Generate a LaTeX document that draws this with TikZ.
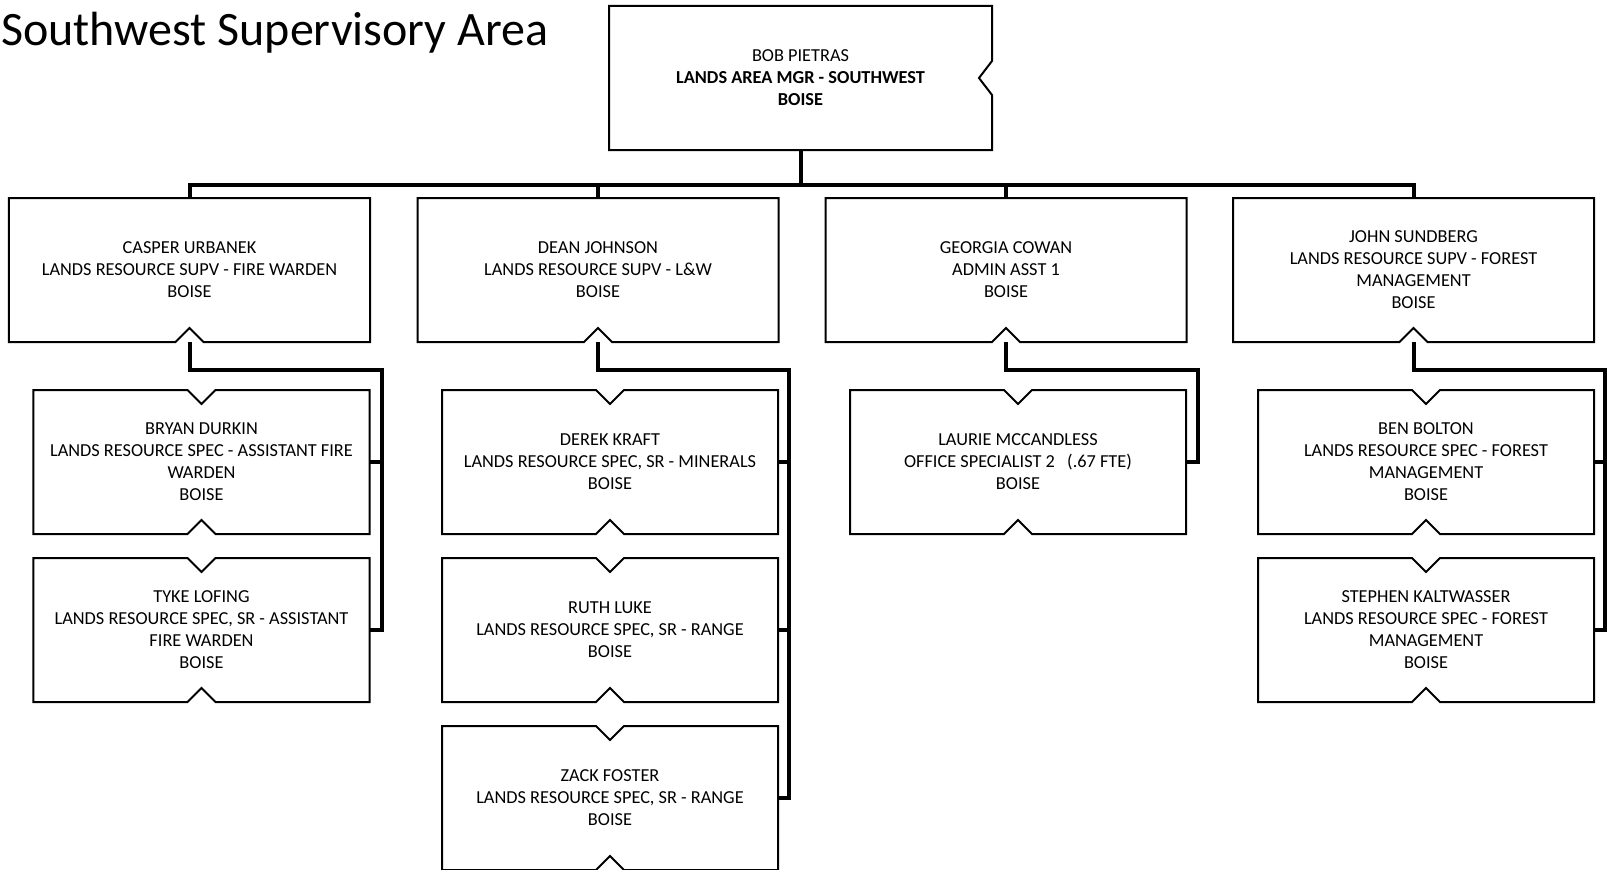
\documentclass[tikz,border=0pt]{standalone}
\usepackage{fontspec}
\setmainfont{Carlito}
\usetikzlibrary{calc}
\newcommand{\chout}[1]{\draw[boxline] (#1.north west) -- ($(#1.north)+(-14,0)$) -- ($(#1.north)+(0,14)$) -- ($(#1.north)+(14,0)$) -- (#1.north east) -- (#1.south east) -- ($(#1.south)+(14,0)$) -- ($(#1.south)+(0,-14)$) -- ($(#1.south)+(-14,0)$) -- (#1.south west) -- cycle;}
\newcommand{\supout}[1]{\draw[boxline] (#1.north west) -- (#1.north east) -- (#1.south east) -- ($(#1.south)+(14,0)$) -- ($(#1.south)+(0,-14)$) -- ($(#1.south)+(-14,0)$) -- (#1.south west) -- cycle;}
\begin{document}
\begin{tikzpicture}[x=1bp,y=-1bp,
  boxline/.style={line width=2bp, line join=miter},
  conn/.style={line width=4bp, line join=miter},
  txt/.style={inner sep=0pt, outer sep=0pt, align=center, font=\fontsize{18.3bp}{22bp}\selectfont},
  supnode/.style={txt, minimum width=361bp, minimum height=144bp},
  chnode/.style={txt, minimum width=336bp, minimum height=144bp}]
\useasboundingbox (0,0) rectangle (1607,869);
\clip (0,0) rectangle (1607,869);
\fill[white] (0,0) rectangle (1607,869);

\node[anchor=base west, inner sep=0pt, font=\fontsize{48bp}{58bp}\selectfont] (title) at (1,45) {Southwest Supervisory Area};

% top
\node[txt, minimum width=383bp, minimum height=144bp] (bob) at (800.5,78) {BOB PIETRAS\\\textbf{LANDS AREA MGR - SOUTHWEST}\\\textbf{BOISE}};
\draw[boxline] (bob.north west) -- (bob.north east) -- ($(bob.east)+(0,-17)$) -- ($(bob.east)+(-13,0)$) -- ($(bob.east)+(0,17)$) -- (bob.south east) -- (bob.south west) -- cycle;

% supervisors
\node[supnode] (casper) at (189.5,270) {CASPER URBANEK\\LANDS RESOURCE SUPV - FIRE WARDEN\\BOISE};
\node[supnode] (dean) at (598,270) {DEAN JOHNSON\\LANDS RESOURCE SUPV - L\&W\\BOISE};
\node[supnode] (georgia) at (1006,270) {GEORGIA COWAN\\ADMIN ASST 1\\BOISE};
\node[supnode] (john) at (1413.5,270) {JOHN SUNDBERG\\LANDS RESOURCE SUPV - FOREST\\MANAGEMENT\\BOISE};
\supout{casper}\supout{dean}\supout{georgia}\supout{john}

% children
\node[chnode] (bryan) at (201.5,462) {BRYAN DURKIN\\LANDS RESOURCE SPEC - ASSISTANT FIRE\\WARDEN\\BOISE};
\node[chnode] (tyke) at (201.5,630) {TYKE LOFING\\LANDS RESOURCE SPEC, SR - ASSISTANT\\FIRE WARDEN\\BOISE};
\node[chnode] (derek) at (610,462) {DEREK KRAFT\\LANDS RESOURCE SPEC, SR - MINERALS\\BOISE};
\node[chnode] (ruth) at (610,630) {RUTH LUKE\\LANDS RESOURCE SPEC, SR - RANGE\\BOISE};
\node[chnode] (zack) at (610,798) {ZACK FOSTER\\LANDS RESOURCE SPEC, SR - RANGE\\BOISE};
\node[chnode] (laurie) at (1018,462) {LAURIE MCCANDLESS\\OFFICE SPECIALIST 2\ \ \ (.67 FTE)\\BOISE};
\node[chnode] (ben) at (1426,462) {BEN BOLTON\\LANDS RESOURCE SPEC - FOREST\\MANAGEMENT\\BOISE};
\node[chnode] (stephen) at (1426,630) {STEPHEN KALTWASSER\\LANDS RESOURCE SPEC - FOREST\\MANAGEMENT\\BOISE};
\chout{bryan}\chout{tyke}\chout{derek}\chout{ruth}\chout{zack}\chout{laurie}\chout{ben}\chout{stephen}

% bus
\coordinate (busy) at (0,185);
\draw[conn] (bob.south) -- (bob.south |- busy);
\draw[conn] (casper.north) |- (john.north |- busy) -- (john.north);
\draw[conn] (dean.north) -- (dean.north |- busy);
\draw[conn] (georgia.north) -- (georgia.north |- busy);

% spines
\coordinate (c1) at (382,370);
\coordinate (c2) at (789,370);
\coordinate (c3) at (1198,370);
\coordinate (c4) at (1605,370);
\draw[conn] (casper.south) |- (c1) |- (tyke.east);
\draw[conn] (bryan.east) -- (bryan.east -| c1);
\draw[conn] (dean.south) |- (c2) |- (zack.east);
\draw[conn] (derek.east) -- (derek.east -| c2);
\draw[conn] (ruth.east) -- (ruth.east -| c2);
\draw[conn] (georgia.south) |- (c3) |- (laurie.east);
\draw[conn] (john.south) |- (c4) |- (stephen.east);
\draw[conn] (ben.east) -- (ben.east -| c4);
\end{tikzpicture}
\end{document}
